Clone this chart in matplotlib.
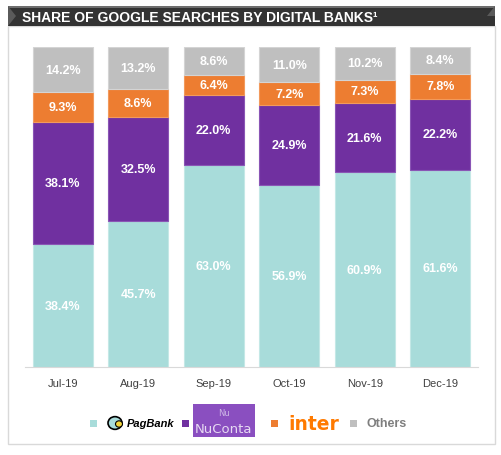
import matplotlib.pyplot as plt
from matplotlib.patches import Rectangle, Circle, Polygon
import numpy as np

# data
months = ["Jul-19", "Aug-19", "Sep-19", "Oct-19", "Nov-19", "Dec-19"]
pagbank = [38.4, 45.7, 63.0, 56.9, 60.9, 61.6]
nuconta = [38.1, 32.5, 22.0, 24.9, 21.6, 22.2]
inter = [9.3, 8.6, 6.4, 7.2, 7.3, 7.8]
others = [14.2, 13.2, 8.6, 11.0, 10.2, 8.4]

series = [pagbank, nuconta, inter, others]
colors = ["#A8DCDA", "#7030A0", "#ED7D31", "#BFBFBF"]
edges = ["#C4E8E6", "#8A55B5", "#F29A5C", "#D4D4D4"]

W, H = 502, 456
fig = plt.figure(figsize=(W / 100, H / 100), dpi=100)

def fx(px):
    return px / W

def fy(py):
    return 1 - py / H

# outer frame
fig.patches.append(Rectangle((fx(8), fy(445)), fx(495) - fx(8), fy(27) - fy(445),
                             transform=fig.transFigure, fill=False,
                             edgecolor="#D9D9D9", linewidth=1.0))
# title bar
fig.patches.append(Rectangle((fx(8), fy(27)), fx(495) - fx(8), fy(7) - fy(27),
                             transform=fig.transFigure, facecolor="#333333",
                             edgecolor="none"))
fig.patches.append(Rectangle((fx(8), fy(9)), fx(495) - fx(8), fy(7) - fy(9),
                             transform=fig.transFigure, facecolor="#6E6E6E",
                             edgecolor="none"))
fig.patches.append(Polygon([(fx(8), fy(7)), (fx(16), fy(17)), (fx(8), fy(27))],
                           closed=True, transform=fig.transFigure,
                           facecolor="#5A5A5A", edgecolor="none"))
fig.patches.append(Polygon([(fx(495), fy(7)), (fx(487), fy(17)), (fx(495), fy(17))],
                           closed=True, transform=fig.transFigure,
                           facecolor="#5A5A5A", edgecolor="none"))
fig.text(fx(22), fy(17.5), "SHARE OF GOOGLE SEARCHES BY DIGITAL BANKS\u00b9",
         color="white", fontsize=10, fontweight="bold", va="center", ha="left",
         family="Liberation Sans")

ax = fig.add_axes([fx(25), fy(368), fx(478) - fx(25), fy(48) - fy(368)])
x = np.arange(len(months))
bottom = np.zeros(len(months))
for vals, c, ec in zip(series, colors, edges):
    ax.bar(x, vals, width=0.8, bottom=bottom, color=c, edgecolor=ec, linewidth=0.8)
    for xi, b, v in zip(x, bottom, vals):
        ax.text(xi, b + v / 2, f"{v:.1f}%", ha="center", va="center",
                color="white", fontsize=9, fontweight="bold",
                family="Liberation Sans")
    bottom += np.array(vals)

ax.set_xlim(-0.5, len(months) - 0.5)
ax.set_ylim(0, 100)
ax.set_xticks(x)
ax.set_xticklabels(months, fontsize=8, color="#404040", family="Liberation Sans")
ax.tick_params(axis="x", length=0, pad=8)
ax.set_yticks([])
for s in ["top", "left", "right"]:
    ax.spines[s].set_visible(False)
ax.spines["bottom"].set_color("#D9D9D9")
ax.patch.set_alpha(0)

# legend, drawn by hand to mimic the logos
ly = 424

def sq(px, c):
    fig.patches.append(Rectangle((fx(px), fy(ly + 3.5)), fx(7), 7 / H,
                                 transform=fig.transFigure, facecolor=c,
                                 edgecolor="none"))

sq(90, colors[0])
fig.patches.append(Circle((fx(115), fy(ly)), 7 / W, transform=fig.transFigure,
                          facecolor="#A8DCDA", edgecolor="black", linewidth=1.2))
fig.patches.append(Circle((fx(119), fy(ly + 1)), 3.5 / W, transform=fig.transFigure,
                          facecolor="#F2D43D", edgecolor="black", linewidth=0.8))
fig.text(fx(127), fy(ly), "PagBank", fontsize=8, fontweight="bold", style="italic",
         color="black", va="center", ha="left", family="Liberation Sans")

sq(182, colors[1])
fig.patches.append(Rectangle((fx(193), fy(438)), fx(62), 33 / H,
                             transform=fig.transFigure, facecolor="#8A4FC0",
                             edgecolor="none"))
fig.text(fx(224), fy(430), "NuConta", fontsize=9.5, color="#E6D9F2",
         va="center", ha="center", family="DejaVu Sans")
fig.text(fx(224), fy(414), "Nu", fontsize=6, color="#CDB6E6",
         va="center", ha="center", family="DejaVu Sans")

sq(271, colors[2])
fig.text(fx(288), fy(ly + 1), "inter", fontsize=13.5, fontweight="bold",
         color="#FF7A00", va="center", ha="left", family="DejaVu Sans")

sq(350, colors[3])
fig.text(fx(367), fy(ly), "Others", fontsize=9, fontweight="bold",
         color="#7F7F7F", va="center", ha="left", family="Liberation Sans")

fig.savefig("out.png", dpi=100)
